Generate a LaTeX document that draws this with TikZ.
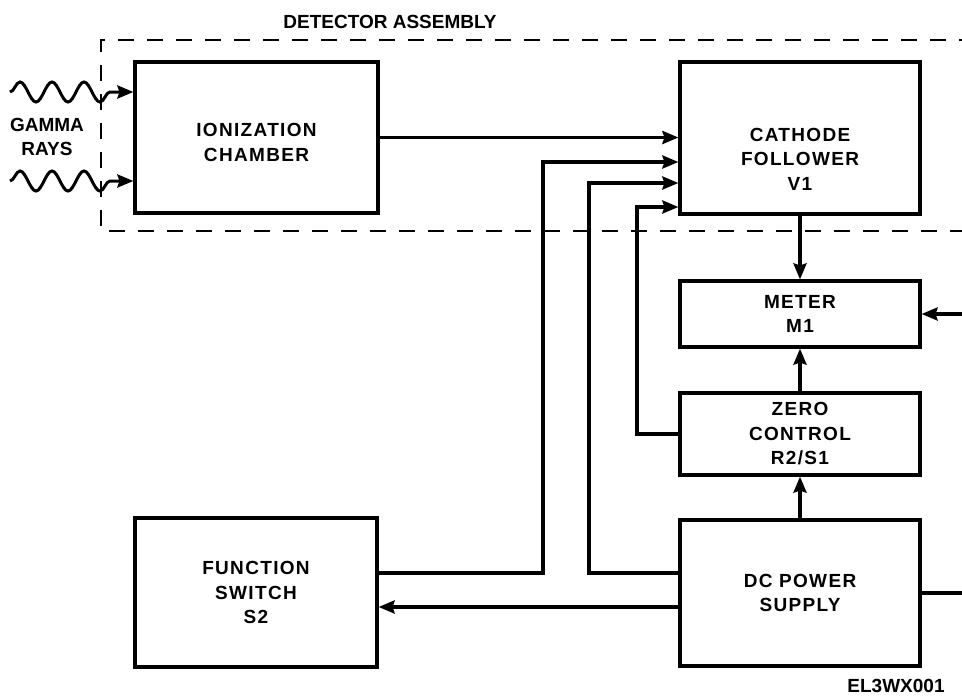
\documentclass[tikz,border=0pt]{standalone}
\usepackage{fontspec}
\setmainfont{Liberation Sans}
\newfontfamily\spacedsans[LetterSpace=7]{Liberation Sans}
\usetikzlibrary{arrows.meta,decorations.pathmorphing}

\begin{document}
\begin{tikzpicture}[x=1pt,y=-1pt,
  >={Stealth[length=16pt,width=13pt,inset=2pt]},
  txt/.style={align=center,font=\fontsize{19}{24}\selectfont\bfseries},
  btxt/.style={align=center,font=\spacedsans\fontsize{19}{24.5}\selectfont\bfseries},
  blk/.style={draw,line width=3.2pt,btxt},
  wire/.style={line width=3.2pt},
  gamma/.style={line width=3pt,decorate,
    decoration={snake,segment length=32pt,amplitude=10pt,post length=12pt}}]
  \useasboundingbox (0,0) rectangle (962,699);
  % detector assembly enclosure, open on the right
  \draw[line width=2.6pt,dash pattern=on 16pt off 13pt]
    (975,40) -- (101,40) -- (101,231) -- (975,231);
  \node[txt] (title) at (390,22) {DETECTOR ASSEMBLY};
  % blocks
  \node[blk,minimum width=243pt,minimum height=151pt,
    label={[btxt,yshift=-5pt]center:IONIZATION\\CHAMBER}] (ion) at (256.5,137.5) {};
  \node[blk,minimum width=240pt,minimum height=152pt,
    label={[btxt,yshift=-21pt]center:CATHODE\\FOLLOWER\\V1}] (cath) at (800,138) {};
  \node[blk,minimum width=240pt,minimum height=66pt] (meter) at (800,314) {METER\\M1};
  \node[blk,minimum width=240pt,minimum height=82pt] (zero) at (800,434) {ZERO\\CONTROL\\R2/S1};
  \node[blk,minimum width=240pt,minimum height=146pt] (dc) at (800,593) {DC POWER\\SUPPLY};
  \node[blk,minimum width=242pt,minimum height=149pt] (func) at (256,592.5) {FUNCTION\\SWITCH\\S2};
  % gamma rays entering the chamber
  \coordinate (g1) at (10,92);
  \coordinate (g2) at (10,181);
  \draw[gamma,->] (g1) -- (ion.west |- g1);
  \draw[gamma,->] (g2) -- (ion.west |- g2);
  \node[txt] (rays) at (47,137) {GAMMA\\RAYS};
  % signal and supply lines
  \draw[wire,->] (ion.east) -- (ion.east -| cath.west);
  \draw[wire,->] (func.east |- 0,573) -| (543,162) -- (cath.west |- 0,162);
  \draw[wire,->] (dc.west |- 0,573) -| (589,183) -- (cath.west |- 0,183);
  \draw[wire,->] (zero.west) -| (637,207) -- (cath.west |- 0,207);
  \draw[wire,->] (dc.west |- 0,607) -- (func.east |- 0,607);
  \draw[wire,->] (cath.south) -- (meter.north);
  \draw[wire,->] (zero.north) -- (meter.south);
  \draw[wire,->] (dc.north) -- (zero.south);
  % lines leaving the sheet on the right
  \coordinate (mext) at (962,314);
  \coordinate (dcext) at (962,595);
  \draw[wire,->] (mext) -- (meter.east);
  \draw[wire] (dc.east) -- (dc.east -| dcext);
  \node[txt] (dwg) at (896,686) {EL3WX001};
\end{tikzpicture}
\end{document}
